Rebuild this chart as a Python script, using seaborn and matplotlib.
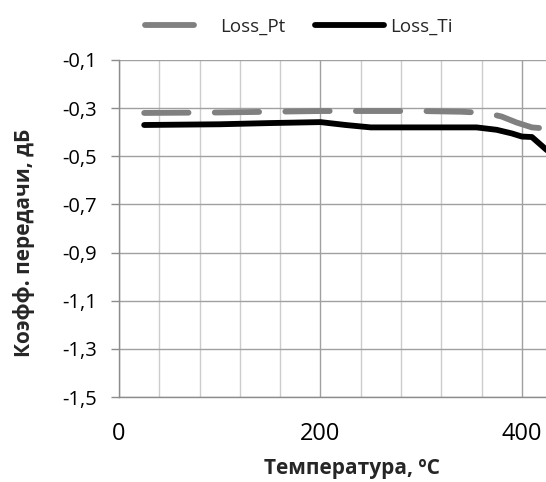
import numpy as np
import pandas as pd
import matplotlib
matplotlib.use("Agg")
import matplotlib.pyplot as plt
import seaborn as sns
from matplotlib.ticker import MultipleLocator
from matplotlib.lines import Line2D

# Data
temp_pt = [25, 100, 150, 200, 250, 300, 340, 365, 380, 395, 410, 425]
loss_pt = [-0.32, -0.318, -0.315, -0.312, -0.312, -0.312, -0.315, -0.32, -0.335, -0.36, -0.38, -0.385]
temp_ti = [25, 100, 150, 200, 225, 250, 300, 355, 375, 390, 400, 410, 425]
loss_ti = [-0.37, -0.367, -0.362, -0.358, -0.37, -0.38, -0.38, -0.38, -0.39, -0.405, -0.418, -0.42, -0.475]
yticks = [-0.1, -0.3, -0.5, -0.7, -0.9, -1.1, -1.3, -1.5]
ytick_labels = ["-0,1", "-0,3", "-0,5", "-0,7", "-0,9", "-1,1", "-1,3", "-1,5"]
xticks = [0, 200, 400]
xtick_labels = ["0", "200", "400"]
series_names = ["Loss_Pt", "Loss_Ti"]

sns.set_theme(style="white")
plt.rcParams['font.family'] = ['Open Sans', 'DejaVu Sans']

W, H = 546, 482
fig = plt.figure(figsize=(W / 100, H / 100), dpi=100)
ax = fig.add_axes([119 / W, 1 - 397 / H, 1 - 119 / W, (397 - 60) / H])

df_pt = pd.DataFrame({"T": temp_pt, "L": loss_pt})
df_ti = pd.DataFrame({"T": temp_ti, "L": loss_ti})

LW = 4.2
sns.lineplot(data=df_pt, x="T", y="L", ax=ax, color="#808080", lw=LW,
             legend=False, solid_capstyle="round")
ax.lines[-1].set_dashes([7.6, 4.5])
ax.lines[-1].set_dash_capstyle("round")
sns.lineplot(data=df_ti, x="T", y="L", ax=ax, color="black", lw=LW,
             legend=False, solid_capstyle="round", solid_joinstyle="round")

ax.set_xlim(0, 424)
ax.set_ylim(-1.5, -0.1)
ax.set_xticks(xticks)
ax.set_xticklabels(xtick_labels, fontsize=17)
ax.xaxis.set_minor_locator(MultipleLocator(40))
ax.set_yticks(yticks)
ax.set_yticklabels(ytick_labels, fontsize=14.5)

ax.grid(True, which="major", color="#a0a0a0", lw=1.0)
ax.grid(True, which="minor", axis="x", color="#cccccc", lw=1.0)
ax.set_axisbelow(True)

for s in ["top", "right"]:
    ax.spines[s].set_visible(False)
for s in ["left", "bottom"]:
    ax.spines[s].set_color("#8c8c8c")
    ax.spines[s].set_linewidth(1.0)

ax.tick_params(axis="y", which="major", left=True, length=6, width=1.0,
               color="#8c8c8c", pad=10, labelcolor="black")
ax.tick_params(axis="x", which="both", bottom=False, pad=12, labelcolor="black")

ax.set_xlabel("Температура, ºC", fontsize=15, fontweight="bold")
ax.xaxis.set_label_coords((352 - 119) / 427, (397 - 458) / 337)
ax.set_ylabel("Коэфф. передачи, дБ", fontsize=15, fontweight="bold")
ax.yaxis.set_label_coords((35 - 119) / 427, (397 - 243) / 337)

# Legend: two single-entry legends placed like the reference
h_pt = Line2D([], [], color="#808080", lw=LW, solid_capstyle="round")
h_ti = Line2D([], [], color="black", lw=LW, solid_capstyle="round")
leg1 = fig.legend([h_pt], [series_names[0]], loc="center left",
                  bbox_to_anchor=(145 / W, 1 - 27 / H), frameon=False,
                  fontsize=13.5, handlelength=2.6, handletextpad=1.4,
                  borderpad=0, borderaxespad=0)
leg2 = fig.legend([h_ti], [series_names[1]], loc="center left",
                  bbox_to_anchor=(315 / W, 1 - 27 / H), frameon=False,
                  fontsize=13.5, handlelength=3.7, handletextpad=0.3,
                  borderpad=0, borderaxespad=0)

fig.savefig("out.png", dpi=100)
